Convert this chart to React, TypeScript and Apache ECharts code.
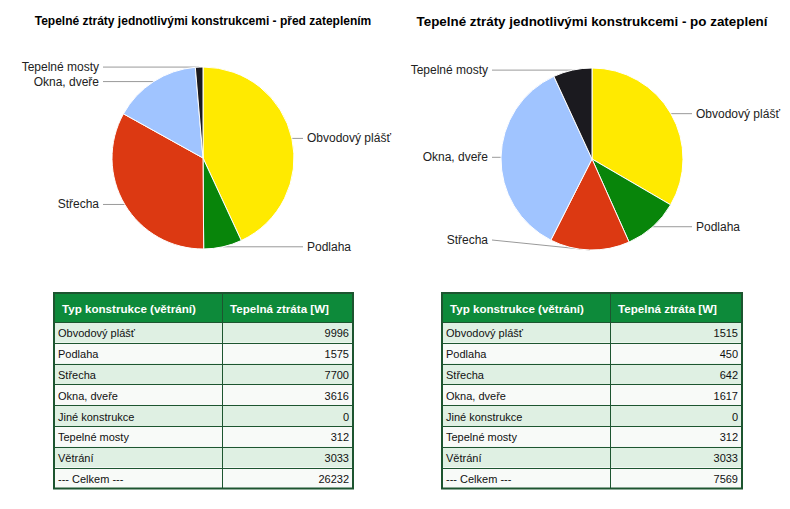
import React, { useEffect, useRef } from "react";
import * as echarts from "echarts";

// ---- data ----
const rowLabels = [
  "Obvodový plášť",
  "Podlaha",
  "Střecha",
  "Okna, dveře",
  "Jiné konstrukce",
  "Tepelné mosty",
  "Větrání",
];
const lossBefore = [9996, 1575, 7700, 3616, 0, 312, 3033];
const lossAfter = [1515, 450, 642, 1617, 0, 312, 3033];
const pieCategories = ["Obvodový plášť", "Podlaha", "Střecha", "Okna, dveře", "Tepelné mosty"];
const sliceColors = ["#ffea00", "#08850a", "#dc3912", "#a0c4ff", "#1b1a1f"];
const chartTitles = [
  "Tepelné ztráty jednotlivými konstrukcemi - před zateplením",
  "Tepelné ztráty jednotlivými konstrukcemi - po zateplení",
];
const tableHeaders = ["Typ konstrukce (větrání)", "Tepelná ztráta [W]"];
const totalLabel = "--- Celkem ---";

// ---- layout ----
const PIE_R = 91;
const pieLayouts = [
  { cx: 203, cy: 158, maxLabelY: 509, titleSize: 12 },
  { cx: 592, cy: 159, maxLabelY: 240, titleSize: 13.4 },
];
const tableLayouts = [
  { left: 54, col1: 168, col2: 131 },
  { left: 442, col1: 168, col2: 132 },
];
const TABLE_TOP = 293;
const HEADER_H = 29;
const ROW_H = 20.8;
const HEADER_FILL = "#0d8a3a";
const ROW_FILL_A = "#dff0e3";
const ROW_FILL_B = "#f8faf8";
const BORDER = "#1d5530";
const FONT = "Arial, 'Liberation Sans', sans-serif";

function pieData(values: number[]) {
  return pieCategories.map((name, i) => ({
    name,
    value: values[rowLabels.indexOf(name)],
    itemStyle: { color: sliceColors[i] },
  }));
}

function makeLabelLayout(cx: number, maxY: number) {
  return (params: any) => {
    const pts = params.labelLinePoints;
    if (!pts || !pts.length) return {};
    const p0 = pts[0];
    const side = p0[0] < cx ? -1 : 1;
    const y = Math.min(p0[1], maxY);
    const lineEnd = cx + side * (PIE_R + 9);
    return {
      x: cx + side * (PIE_R + 13),
      y,
      align: side < 0 ? "right" : "left",
      verticalAlign: "middle",
      labelLinePoints: [
        [p0[0], p0[1]],
        [lineEnd, y],
      ],
    };
  };
}

function buildTable(t: { left: number; col1: number; col2: number }, values: number[]) {
  const els: any[] = [];
  const width = t.col1 + t.col2;
  const rows: [string, string][] = rowLabels.map((l, i) => [l, String(values[i])]);
  rows.push([totalLabel, String(values.reduce((a, b) => a + b, 0))]);
  const totalH = HEADER_H + rows.length * ROW_H;
  els.push({
    type: "rect",
    shape: { x: t.left, y: TABLE_TOP, width, height: HEADER_H },
    style: { fill: HEADER_FILL },
  });
  rows.forEach((_, i) => {
    els.push({
      type: "rect",
      shape: { x: t.left, y: TABLE_TOP + HEADER_H + i * ROW_H, width, height: ROW_H },
      style: { fill: i % 2 === 0 ? ROW_FILL_A : ROW_FILL_B },
    });
  });
  for (let i = 0; i < rows.length; i++) {
    const y = Math.round(TABLE_TOP + HEADER_H + i * ROW_H) + 0.5;
    els.push({
      type: "line",
      shape: { x1: t.left, y1: y, x2: t.left + width, y2: y },
      style: { stroke: BORDER, lineWidth: 1 },
    });
  }
  const dx = t.left + t.col1 + 0.5;
  els.push({
    type: "line",
    shape: { x1: dx, y1: TABLE_TOP, x2: dx, y2: TABLE_TOP + totalH },
    style: { stroke: BORDER, lineWidth: 1 },
  });
  els.push({
    type: "rect",
    shape: { x: t.left, y: TABLE_TOP, width, height: totalH },
    style: { fill: "none", stroke: BORDER, lineWidth: 2 },
  });
  tableHeaders.forEach((h, i) => {
    els.push({
      type: "text",
      x: t.left + (i === 0 ? 8 : t.col1 + 8),
      y: TABLE_TOP + HEADER_H / 2 + 1,
      style: {
        text: h,
        fill: "#ffffff",
        font: `bold 11.6px ${FONT}`,
        align: "left",
        verticalAlign: "middle",
      },
    });
  });
  rows.forEach((r, i) => {
    const cy = TABLE_TOP + HEADER_H + i * ROW_H + ROW_H / 2 + 1;
    els.push({
      type: "text",
      x: t.left + 4,
      y: cy,
      style: { text: r[0], fill: "#111", font: `11px ${FONT}`, align: "left", verticalAlign: "middle" },
    });
    els.push({
      type: "text",
      x: t.left + width - 4,
      y: cy,
      style: { text: r[1], fill: "#111", font: `11px ${FONT}`, align: "right", verticalAlign: "middle" },
    });
  });
  return els;
}

export default function App() {
  const ref = useRef<HTMLDivElement>(null);
  useEffect(() => {
    if (!ref.current) return;
    const chart = echarts.init(ref.current, undefined, { renderer: "svg" });
    const datasets = [lossBefore, lossAfter];
    chart.setOption({
      animation: false,
      backgroundColor: "#ffffff",
      series: pieLayouts.map((p, si) => ({
        type: "pie",
        left: 0,
        top: 0,
        width: 790,
        height: 509,
        center: [p.cx, p.cy],
        radius: PIE_R,
        startAngle: 90,
        clockwise: true,
        silent: true,
        avoidLabelOverlap: true,
        itemStyle: { borderColor: "#ffffff", borderWidth: 1 },
        label: {
          show: true,
          position: "outer",
          color: "#222222",
          fontSize: 12,
          fontFamily: FONT,
          formatter: "{b}",
        },
        labelLine: {
          show: true,
          length: 0,
          length2: 8,
          lineStyle: { color: "#9a9a9a", width: 1 },
        },
        labelLayout: makeLabelLayout(p.cx, p.maxLabelY),
        emphasis: { disabled: true },
        data: pieData(datasets[si]),
      })),
      graphic: {
        elements: [
          ...pieLayouts.map((p, i) => ({
            type: "text",
            x: p.cx,
            y: 21,
            style: {
              text: chartTitles[i],
              fill: "#000000",
              font: `bold ${p.titleSize}px ${FONT}`,
              align: "center",
              verticalAlign: "middle",
            },
          })),
          ...buildTable(tableLayouts[0], lossBefore),
          ...buildTable(tableLayouts[1], lossAfter),
        ],
      },
    });
    return () => chart.dispose();
  }, []);
  return (
    <div
      ref={ref}
      style={{ position: "fixed", left: 0, top: 0, width: 790, height: 509, background: "#fff" }}
    />
  );
}
